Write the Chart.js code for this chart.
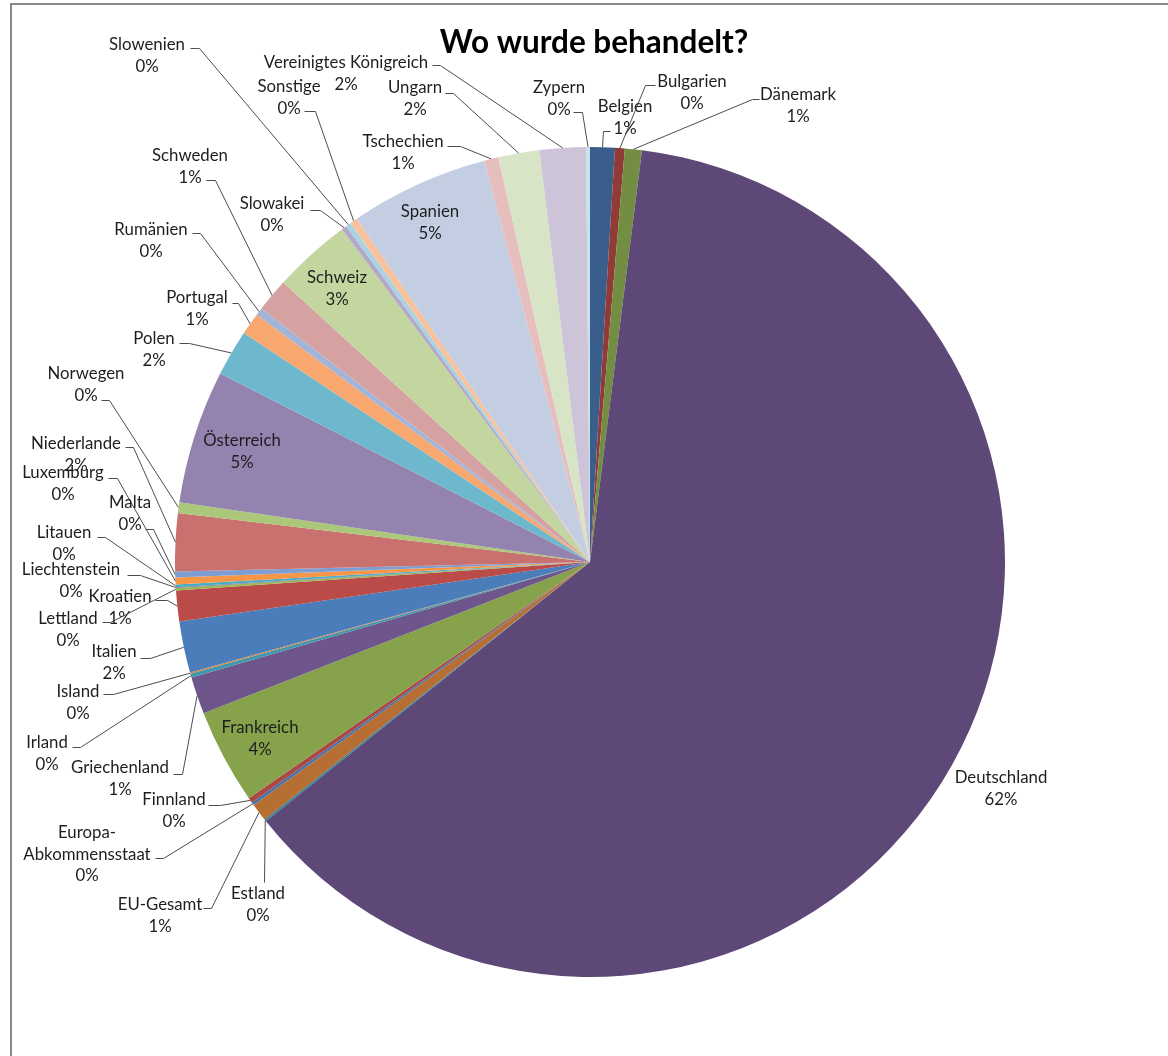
<!DOCTYPE html>
<html>
<head>
<meta charset="utf-8">
<script src="https://cdn.jsdelivr.net/npm/chart.js@4.4.1/dist/chart.umd.min.js"></script>
<style>
  html, body { margin: 0; padding: 0; background: #fff; overflow: hidden; }
  #frame {
    position: absolute; left: 10px; top: 3px;
    width: 1200px; height: 1100px;
    border-left: 2px solid #878787; border-top: 2px solid #878787;
  }
  #pie { position: absolute; left: 0; top: 0; }
</style>
</head>
<body>
<div id="frame"><canvas id="pie" width="1168" height="1051"></canvas></div>
<script>
const countries = ['Belgien', 'Bulgarien', 'Dänemark', 'Deutschland', 'Estland', 'EU-Gesamt',
    'Europa-Abkommensstaat', 'Finnland', 'Frankreich', 'Griechenland', 'Irland', 'Island',
    'Italien', 'Kroatien', 'Lettland', 'Liechtenstein', 'Litauen', 'Luxemburg', 'Malta',
    'Niederlande', 'Norwegen', 'Österreich', 'Polen', 'Portugal', 'Rumänien', 'Schweden',
    'Schweiz', 'Slowakei', 'Slowenien', 'Sonstige', 'Spanien', 'Tschechien', 'Ungarn',
    'Vereinigtes Königreich', 'Zypern'];

// share of treatments
const shares = [0.96, 0.38, 0.66, 62.3, 0.08, 0.7,
    0.12, 0.2, 3.7, 1.45, 0.15, 0.05,
    2.0, 1.2, 0.1, 0.03, 0.1, 0.27, 0.23,
    2.25, 0.42, 5.2, 1.8, 0.86, 0.3, 1.3,
    3.05, 0.2, 0.2, 0.3, 5.4, 0.55, 1.6,
    1.8, 0.15];

const sliceColors = ['#3A5E8C', '#913B39', '#738D42', '#5E4878', '#358196', '#B66E32',
    '#4673A8', '#AC4744', '#86A24B', '#6E568C', '#4097AE', '#D8843F',
    '#4A7DBA', '#BA4B48', '#98B954', '#8064A2', '#4BACC6', '#F79646', '#7E9ED3',
    '#C8716E', '#ABC87A', '#9482AF', '#6EB8CE', '#F8A86E', '#A2B5D9', '#D6A2A1',
    '#C3D6A0', '#B4A7C8', '#A6D4E2', '#F9C29C', '#C4CEE3', '#E5BEBD', '#D8E4C6',
    '#CDC4D9', '#C6E3EC'];

const chartTitle = 'Wo wurde behandelt?';

// label placement, offsets from pie centre: [textX, textY, hookX, hookY, tickX] (null hook = no leader)
const labelSpots = [
    [35, -455, 20, -431, 13], [102, -480, 65, -477, 55], [208, -467, 169, -463, 162],
    [411, 216, null], [-332, 332, -326, 320, -326], [-430, 343, -387, 346, -379],
    [-503, 271, -435, 296, -427], [-416, 238, -382, 243, -370], [-330, 166, null],
    [-470, 206, -417, 212, -408], [-543, 181, -518, 185, -510], [-512, 130, -487, 132, -477],
    [-476, 90, -450, 96, -440], [-470, 35, -435, 38, -423], [-522, 57, -488, 60, -480],
    [-519, 8, -463, 13, -450], [-526, -29, -493, -25, -485], [-527, -89, -482, -84, -473],
    [-460, -59, -445, -33, -437], [-514, -118, -465, -115, -457], [-504, -188, -489, -162, -481],
    [-348, -121, null], [-436, -223, -411, -219, -401], [-393, -264, -358, -259, -352],
    [-439, -332, -398, -329, -390], [-400, -406, -384, -382, -375], [-253, -284, null],
    [-318, -358, -280, -352, -270], [-443, -517, -400, -514, -391], [-301, -475, -286, -451, -275],
    [-160, -350, null], [-187, -420, -143, -416, -130], [-175, -474, -145, -469, -137],
    [-244, -499, -158, -497, -150], [-31, -474, -17, -450, -8]
];

const pieLabels = {
    id: 'pieLabels',
    afterDatasetsDraw(chart) {
        const ctx = chart.ctx;
        const meta = chart.getDatasetMeta(0);
        const total = shares.reduce((a, b) => a + b, 0);
        ctx.save();
        ctx.font = '16.8px Lato';
        ctx.fillStyle = '#1e1e1e';
        ctx.textAlign = 'center';
        ctx.textBaseline = 'middle';
        ctx.strokeStyle = '#4d4d4d';
        ctx.lineWidth = 1;
        meta.data.forEach((arc, i) => {
            const p = arc.getProps(['x', 'y', 'startAngle', 'endAngle', 'outerRadius'], true);
            const spot = labelSpots[i];
            let name = countries[i];
            let lines = [name];
            if (name.includes('-') && name.length > 12) {
                const k = name.indexOf('-') + 1;
                lines = [name.slice(0, k), name.slice(k)];
            }
            lines.push(Math.round(shares[i] / total * 100) + '%');
            lines.forEach((t, j) => {
                ctx.fillText(t, p.x + spot[0], p.y + spot[1] + j * 21.5);
            });
            if (spot[2] !== null) {
                const mid = (p.startAngle + p.endAngle) / 2;
                const ex = p.x + Math.cos(mid) * p.outerRadius;
                const ey = p.y + Math.sin(mid) * p.outerRadius;
                ctx.beginPath();
                ctx.moveTo(p.x + spot[2] + 0.5, p.y + spot[3] + 0.5);
                ctx.lineTo(p.x + spot[4] + 0.5, p.y + spot[3] + 0.5);
                ctx.lineTo(ex, ey);
                ctx.stroke();
            }
        });
        // title
        ctx.font = 'bold 31.5px Lato';
        ctx.fillStyle = '#000';
        ctx.textBaseline = 'alphabetic';
        ctx.fillText(chartTitle, 582, 48);
        ctx.restore();
    }
};

const ctx = document.getElementById('pie');

new Chart(ctx, {
    type: 'pie',
    data: {
        labels: countries,
        datasets: [{
            data: shares,
            backgroundColor: sliceColors,
            borderWidth: 0
        }]
    },
    options: {
        responsive: false,
        animation: false,
        layout: { padding: { left: 163, right: 175, top: 142, bottom: 79 } },
        plugins: {
            legend: { display: false },
            tooltip: { enabled: false }
        }
    },
    plugins: [pieLabels]
});
</script>
</body>
</html>
